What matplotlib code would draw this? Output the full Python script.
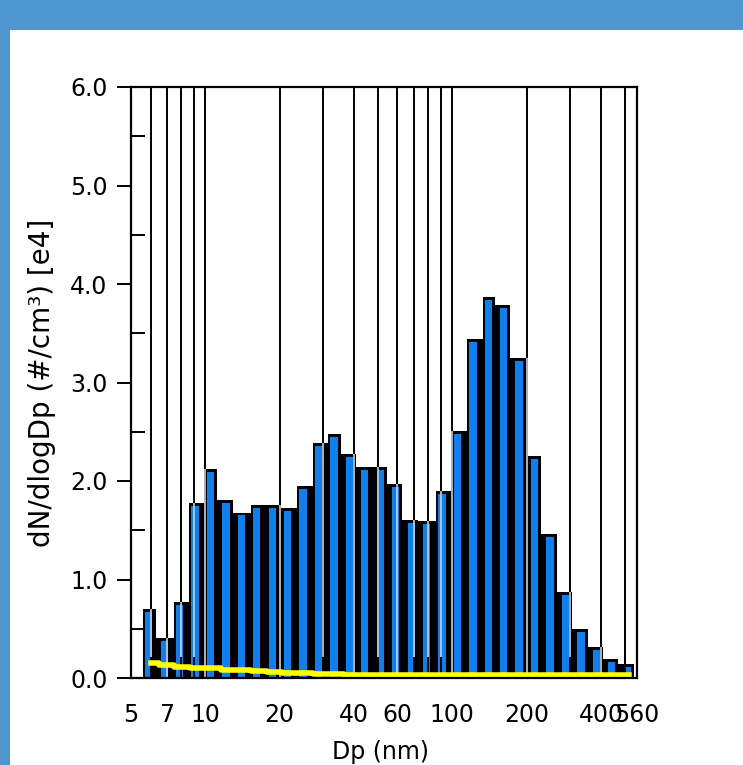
import numpy as np
import matplotlib
matplotlib.use("Agg")
import matplotlib.pyplot as plt
from matplotlib.patches import Rectangle
from matplotlib.ticker import FixedLocator, NullFormatter

# channel edges (nm), 16 channels per decade
edges = [5.60, 6.47, 7.47, 8.62, 9.96, 11.5, 13.3, 15.3, 17.7, 20.4, 23.6,
         27.3, 31.5, 36.4, 42.0, 48.5, 56.0, 64.7, 74.7, 86.2, 99.6, 115.0,
         133.0, 153.0, 177.0, 204.0, 236.0, 273.0, 315.0, 364.0, 420.0,
         485.0, 560.0]

# dN/dlogDp in units of 1e4 #/cm3
dndlogdp = [0.70, 0.41, 0.77, 1.78, 2.12, 1.81, 1.68, 1.76, 1.76, 1.73, 1.95,
            2.39, 2.48, 2.27, 2.14, 2.14, 1.97, 1.60, 1.59, 1.90, 2.51, 3.44,
            3.87, 3.79, 3.25, 2.25, 1.46, 0.87, 0.50, 0.31, 0.19, 0.14]

# second trace (yellow)
trace2 = [0.15, 0.13, 0.11, 0.10, 0.10, 0.08, 0.08, 0.07, 0.06, 0.05, 0.05,
          0.04, 0.04, 0.03, 0.03, 0.03, 0.03, 0.03, 0.03, 0.03, 0.03, 0.03,
          0.03, 0.03, 0.03, 0.03, 0.03, 0.03, 0.03, 0.03, 0.03, 0.03]

grid_x = [6, 7, 8, 9, 10, 20, 30, 40, 50, 60, 70, 80, 90, 100, 200, 300,
          400, 500]
label_x = [5, 7, 10, 20, 40, 60, 100, 200, 400, 560]
y_major = [0, 1, 2, 3, 4, 5, 6]
y_minor = [0.5, 1.5, 2.5, 3.5, 4.5, 5.5]

W, H = 743, 765
fig = plt.figure(figsize=(W / 100, H / 100), dpi=100)
fig.patch.set_facecolor("#4f95d0")
fig.patches.append(Rectangle((10 / W, 0), 1, (H - 30) / H, transform=fig.transFigure,
                             facecolor="white", edgecolor="none", zorder=-5))

ax = fig.add_axes([131 / W, (H - 678) / H, (637 - 131) / W, (678 - 87) / H])
ax.set_xscale("log")
ax.set_xlim(5, 560)
ax.set_ylim(0, 6)
ax.set_facecolor("none")

edges = np.array(edges)
h = np.array(dndlogdp)
lo = np.log10(edges[:-1])
dw = np.log10(edges[1:]) - lo

# vertical grid behind the bars
ax.vlines(grid_x, 0, 6, color="black", lw=1.4, zorder=0.5)

# bar bodies: black box with blue face on the left part
body_r = 10 ** (lo + 0.8 * dw)
ax.bar(edges[:-1], h, width=body_r - edges[:-1], align="edge",
       color="black", lw=0, zorder=1)
nxt = np.append(h[1:], 0)
gap_h = np.minimum(h, nxt)
ax.bar(body_r, gap_h, width=edges[1:] - body_r, align="edge",
       color="black", lw=0, zorder=1)
face_l = 10 ** (lo + 0.13 * dw)
face_r = 10 ** (lo + 0.6 * dw)
ax.bar(face_l, h - 0.03, width=face_r - face_l, align="edge",
       color="#0a80f2", lw=0, zorder=1.2)

# grid lines show light where they cross the bars
for gx in grid_x:
    i = np.searchsorted(edges, gx) - 1
    if 0 <= i < len(h):
        ax.vlines(gx, 0, h[i], color="#d0d0d0", lw=1.2, zorder=1.5)

centers = 10 ** (lo + 0.5 * dw)
ax.plot(centers, trace2, drawstyle="steps-mid", color="#ffff00", lw=4,
        zorder=2)

# axes styling
for s in ax.spines.values():
    s.set_linewidth(1.6)
    s.set_color("black")
    s.set_zorder(3)

ax.xaxis.set_major_locator(FixedLocator(label_x))
ax.xaxis.set_minor_locator(FixedLocator(grid_x))
ax.set_xticklabels([str(v) for v in label_x])
ax.xaxis.set_minor_formatter(NullFormatter())
ax.tick_params(axis="x", which="both", direction="in", length=15, width=1.4,
               pad=18, labelsize=17)
ax.tick_params(axis="x", which="major", length=0)

ax.yaxis.set_major_locator(FixedLocator(y_major))
ax.yaxis.set_minor_locator(FixedLocator(y_minor))
ax.set_yticklabels(["%.1f" % v for v in y_major])
ax.tick_params(axis="y", which="major", direction="out", length=10, width=1.4,
               pad=7, labelsize=17)
ax.tick_params(axis="y", which="minor", direction="in", length=10, width=1.4)

for lab in ax.get_xticklabels() + ax.get_yticklabels():
    lab.set_fontfamily("DejaVu Sans")

ax.set_ylabel("dN/dlogDp (#/cm³) [e4]", fontsize=20, labelpad=10)
fig.text(380 / W, 1 / H, "Dp (nm)", ha="center", va="bottom", fontsize=17)

fig.savefig("out.png", dpi=100)
